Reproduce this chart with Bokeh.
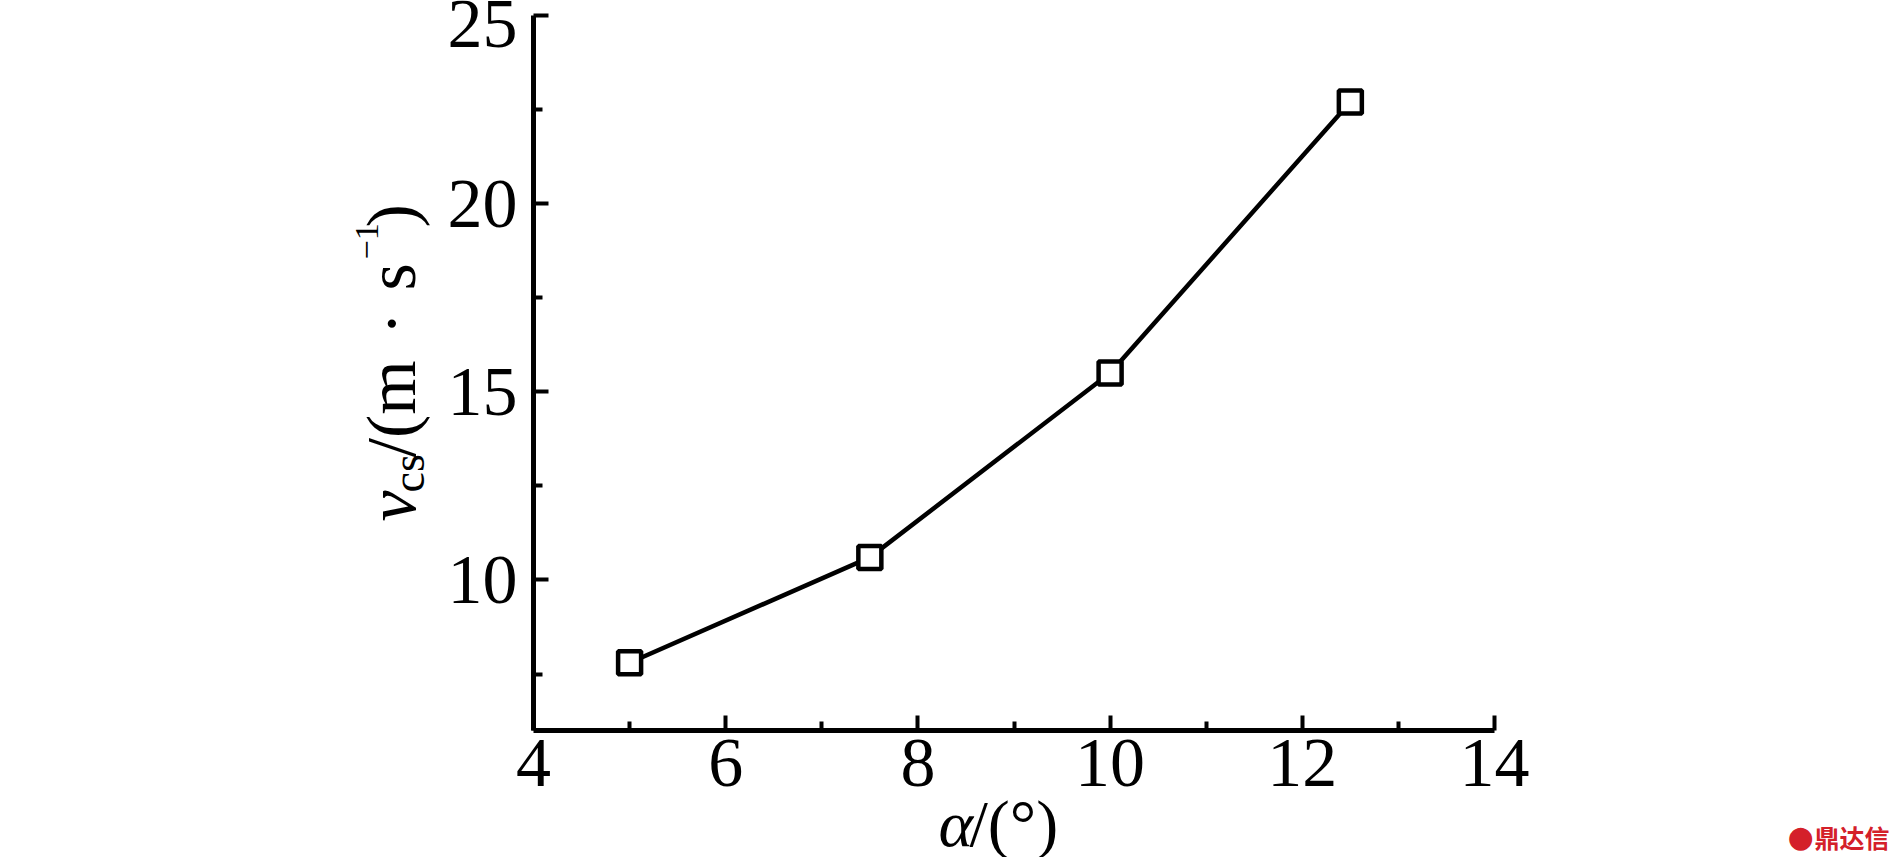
from bokeh.plotting import figure
from bokeh.models import FixedTicker, Label, ColumnDataSource
from bokeh.embed import file_html
from bokeh.resources import INLINE
import math

# data
alpha_deg = [5.0, 7.5, 10.0, 12.5]
v_cs = [7.8, 10.6, 15.5, 22.7]
x_major = [4, 6, 8, 10, 12, 14]
x_minor = [5, 7, 9, 11, 13]
y_major = [10, 15, 20, 25]
y_minor = [7.5, 12.5, 17.5, 22.5]
x_lo, x_hi = 4, 14
y_lo, y_hi = 6.0, 25

W, H = 1890, 857
FONT = "Liberation Serif"

# pixel placement of the axes box inside the canvas
AX_L, AX_R, AX_T, AX_B = 533, 1494, 15, 730
sx_ = (x_hi - x_lo) / (AX_R - AX_L)
sy_ = (y_hi - y_lo) / (AX_B - AX_T)
xr = (x_lo - AX_L * sx_, x_hi + (W - AX_R) * sx_)
yr = (y_lo - (H - AX_B) * sy_, y_hi + AX_T * sy_)

p = figure(width=W, height=H, output_backend="svg", toolbar_location=None,
           x_range=xr, y_range=yr, min_border=0,
           min_border_left=0, min_border_right=0,
           min_border_top=0, min_border_bottom=0)
p.outline_line_color = None
p.xgrid.visible = False
p.ygrid.visible = False
p.background_fill_color = "white"
p.border_fill_color = "white"

xa, ya = p.xaxis[0], p.yaxis[0]
xa.fixed_location = y_lo
ya.fixed_location = x_lo
xa.bounds = (x_lo, x_hi)
ya.bounds = (y_lo, y_hi)

for ax in (xa, ya):
    ax.axis_line_width = 5
    ax.axis_line_color = "black"
    ax.major_tick_line_width = 4
    ax.minor_tick_line_width = 4
    ax.major_tick_line_color = "black"
    ax.minor_tick_line_color = "black"
    ax.major_tick_in = 15
    ax.major_tick_out = 0
    ax.minor_tick_in = 9
    ax.minor_tick_out = 0
    ax.major_label_text_font = FONT
    ax.major_label_text_font_size = "70px"
    ax.major_label_text_color = "black"

xa.ticker = FixedTicker(ticks=x_major, minor_ticks=x_minor)
ya.ticker = FixedTicker(ticks=y_major, minor_ticks=y_minor)
xa.major_label_standoff = 9
ya.major_label_standoff = 16

src = ColumnDataSource(dict(x=alpha_deg, y=v_cs))
p.line("x", "y", source=src, line_color="black", line_width=4.5)
p.scatter("x", "y", source=src, marker="square", size=23,
          fill_color="white", line_color="black", line_width=4.5)

SHIFT = 0.3  # observed baseline offset of Label text, in em


def add(text, X, Y, size, angle=0.0, style="normal", align="left", color="black", font=FONT):
    if angle:
        X = X - SHIFT * size
    else:
        Y = Y - SHIFT * size
    p.add_layout(Label(x=X, y=H - Y, x_units="screen", y_units="screen",
                       text=text, angle=angle, text_font=font,
                       text_font_size=f"{size}px", text_font_style=style,
                       text_align=align, text_baseline="alphabetic",
                       text_color=color))


R = math.pi / 2
# y-axis label: v_cs/(m · s^-1)
add("v", 412, 521, 70, R, "italic")
add("cs", 422, 492, 46, R)
add("/(m", 412, 457, 70, R)
add("·", 412, 323, 70, R, align="center")
add("s", 412, 290, 70, R)
add("\u22121", 377, 259, 34, R)
add(")", 412, 227, 70, R)

# x-axis label: α/(°)
add("α", 938, 843, 66, 0.0, "italic")
add("/(°)", 969, 843, 66)

# watermark
add("●", 1787, 845, 30, 0.0, color="#d4202a", font="DejaVu Sans")
add("鼎达信", 1814, 844, 25, 0.0, "bold", color="#d4202a", font="Noto Sans CJK SC")

open("out.html", "w").write(file_html(p, INLINE))
